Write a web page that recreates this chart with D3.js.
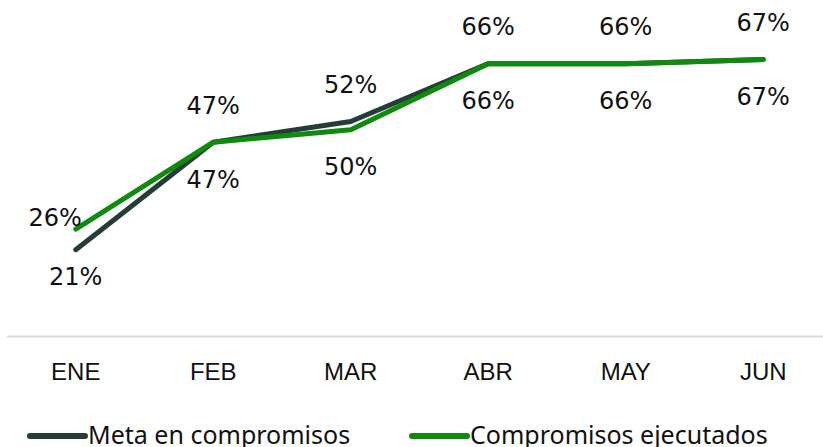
<!DOCTYPE html>
<html>
<head>
<meta charset="utf-8">
<script src="https://cdn.jsdelivr.net/npm/d3@7/dist/d3.min.js"></script>
<style>
  html, body { margin: 0; padding: 0; background: #fff; }
  svg { display: block; font-family: "Noto Sans", Lato, sans-serif; }
  .lbl { font-family: "DejaVu Sans", sans-serif; font-size: 24px; fill: #111; }
  .leg { font-size: 25px; fill: #111; }
  .tick text { font-size: 24px; fill: #111; }
</style>
</head>
<body>
<div id="chart"></div>
<script>
const months = ['ENE', 'FEB', 'MAR', 'ABR', 'MAY', 'JUN'];
const meta = [21, 47, 52, 66, 66, 67];
const ejecutados = [26, 47, 50, 66, 66, 67];
// where each data label goes, relative to its point
const metaLabelPos = ['below', 'above', 'above', 'above', 'above', 'above'];
const ejecLabelPos = ['left', 'below', 'below', 'below', 'below', 'below'];

const series = [
    { name: 'Meta en compromisos', values: meta, pos: metaLabelPos, color: '#243d36' },
    { name: 'Compromisos ejecutados', values: ejecutados, pos: ejecLabelPos, color: '#0f8a0c' }
];

const width = 823, height = 447;
const svg = d3.select('#chart').append('svg')
    .attr('width', width)
    .attr('height', height);

const x = d3.scaleBand().domain(months).range([7, 832]);
const y = d3.scaleLinear().domain([0, 80]).range([336.5, 5.8]);
const cx = d => x(d) + x.bandwidth() / 2;

// baseline
svg.append('line')
    .attr('x1', 7).attr('x2', 823)
    .attr('y1', y(0)).attr('y2', y(0))
    .attr('stroke', '#d9d9d9').attr('stroke-width', 2);

const xAxis = svg.append('g')
    .attr('transform', `translate(0,${y(0)})`)
    .call(d3.axisBottom(x).tickSize(0).tickPadding(26));
xAxis.select('.domain').remove();
xAxis.selectAll('.tick text').attr('dy', '0.71em');

const line = d3.line()
    .x((d, i) => cx(months[i]))
    .y(d => y(d));

series.forEach(s => {
    svg.append('path')
        .datum(s.values)
        .attr('d', line)
        .attr('fill', 'none')
        .attr('stroke', s.color)
        .attr('stroke-width', 5)
        .attr('stroke-linecap', 'round')
        .attr('stroke-linejoin', 'round');
});

series.forEach(s => {
    svg.append('g').selectAll('text')
        .data(s.values)
        .enter().append('text')
        .attr('class', 'lbl')
        .attr('text-anchor', (d, i) => s.pos[i] === 'left' ? 'end' : 'middle')
        .attr('x', (d, i) => s.pos[i] === 'left' ? cx(months[i]) + 6 : cx(months[i]))
        .attr('y', (d, i) => {
            const p = s.pos[i];
            if (p === 'above') return y(d) - 37;
            if (p === 'below') return y(d) + (i === 0 ? 27 : 37);
            return y(d) - 11;
        })
        .attr('dy', '0.35em')
        .text(d => d + '%');
});

// legend
const legend = svg.append('g').attr('transform', 'translate(0,436)');
const legendX = [30, 412];
series.forEach((s, i) => {
    const g = legend.append('g').attr('transform', `translate(${legendX[i]},0)`);
    g.append('line')
        .attr('x1', 0).attr('x2', 55)
        .attr('stroke', s.color)
        .attr('stroke-width', 6)
        .attr('stroke-linecap', 'round');
    g.append('text')
        .attr('class', 'leg')
        .attr('x', 58)
        .attr('dy', '0.33em')
        .text(s.name);
});
</script>
</body>
</html>
